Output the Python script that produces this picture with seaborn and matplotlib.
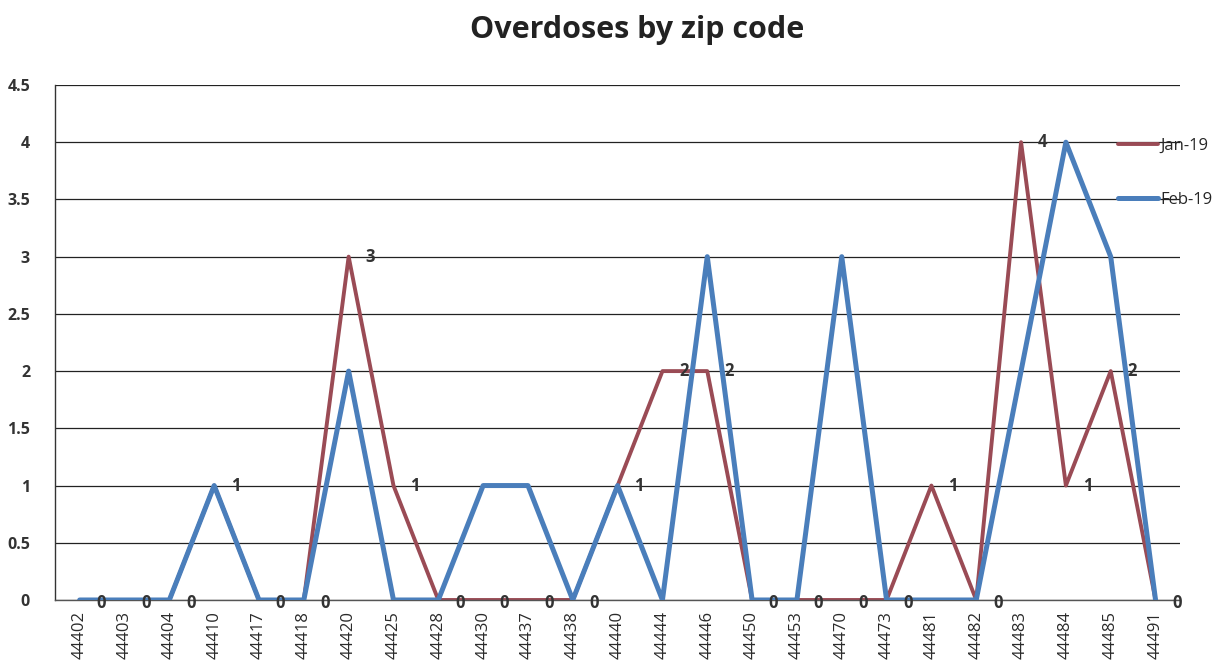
import numpy as np
import pandas as pd
import matplotlib
matplotlib.use("Agg")
import matplotlib.pyplot as plt
import seaborn as sns

zips = ["44402", "44403", "44404", "44410", "44417", "44418", "44420", "44425",
        "44428", "44430", "44437", "44438", "44440", "44444", "44446", "44450",
        "44453", "44470", "44473", "44481", "44482", "44483", "44484", "44485", "44491"]
jan19 = [0, 0, 0, 1, 0, 0, 3, 1, 0, 0, 0, 0, 1, 2, 2, 0, 0, 0, 0, 1, 0, 4, 1, 2, 0]
feb19 = [0, 0, 0, 1, 0, 0, 2, 0, 0, 1, 1, 0, 1, 0, 3, 0, 0, 3, 0, 0, 0, 2, 4, 3, 0]
series_names = ["Jan-19", "Feb-19"]
yticks = [0, 0.5, 1, 1.5, 2, 2.5, 3, 3.5, 4, 4.5]
ytick_labels = ["0", "0.5", "1", "1.5", "2", "2.5", "3", "3.5", "4", "4.5"]

sns.set_theme(style="white")
plt.rcParams['font.family'] = ['Open Sans', 'DejaVu Sans']

pos = np.arange(len(zips))
df = pd.DataFrame({
    "pos": np.concatenate([pos, pos]),
    "value": jan19 + feb19,
    "series": [series_names[0]] * len(zips) + [series_names[1]] * len(zips),
})

fig = plt.figure(figsize=(12.23, 6.64), dpi=100)
ax = fig.add_axes([0.045, 0.0964, 0.92, 0.7756])

palette = {"Jan-19": "#9A4B55", "Feb-19": "#4A7EBB"}
sns.lineplot(data=df[df.series == "Feb-19"], x="pos", y="value", color=palette["Feb-19"],
             linewidth=3.6, ax=ax, label="Feb-19", zorder=3)
sns.lineplot(data=df[df.series == "Jan-19"], x="pos", y="value", color=palette["Jan-19"],
             linewidth=2.8, ax=ax, label="Jan-19", zorder=2)

for x, v in zip(pos, jan19):
    ax.annotate(str(v), (x, v), xytext=(12, -2 if v == 0 else 0), textcoords="offset points",
                ha="left", va="center", fontsize=12, fontweight="bold", color="#333333")

ax.set_xlim(-0.55, 24.55)
ax.set_ylim(0, 4.5)
ax.set_yticks(yticks)
ax.set_yticklabels(ytick_labels, fontsize=11.5, fontweight="bold", color="#333333")
ax.set_xticks(pos)
ax.set_xticklabels(zips, rotation=90, fontsize=12, color="#2a2a2a")
ax.set_xlabel("")
ax.set_ylabel("")
ax.tick_params(axis="x", length=0, pad=8)
ax.tick_params(axis="y", length=0, pad=18)
ax.yaxis.grid(True, color="#222222", linewidth=0.9)
ax.xaxis.grid(False)
for s in ["top", "right"]:
    ax.spines[s].set_visible(False)
ax.spines["left"].set_color("#333333")
ax.spines["bottom"].set_color("#555555")
ax.spines["left"].set_linewidth(1.0)
ax.spines["bottom"].set_linewidth(1.0)

handles, labels = ax.get_legend_handles_labels()
order = [labels.index("Jan-19"), labels.index("Feb-19")]
ax.legend([handles[i] for i in order], [labels[i] for i in order],
          loc="upper left", bbox_to_anchor=(0.909, 0.803), bbox_transform=fig.transFigure,
          frameon=False, fontsize=12, labelspacing=2.3, handlelength=2.4,
          handletextpad=0.15, borderaxespad=0)
ax.set_title("")
fig.text(0.521, 0.955, "Overdoses by zip code", ha="center", va="center",
         fontsize=22, fontweight="bold", color="#222222")

fig.savefig("out.png", dpi=100)
